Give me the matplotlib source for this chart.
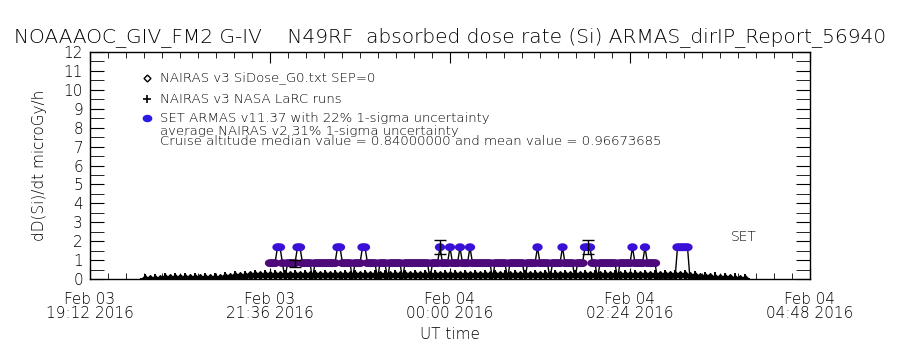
import numpy as np
import pandas as pd
import matplotlib
matplotlib.use('Agg')
import matplotlib.pyplot as plt
import matplotlib.dates as mdates
from matplotlib.ticker import MultipleLocator, FixedLocator

plt.rcParams['font.family'] = ['DejaVu Sans']
plt.rcParams['font.weight'] = 'light'
plt.rcParams['axes.labelweight'] = 'light'

# NAIRAS v3 SiDose_G0 model, 4-min samples starting 19:56 UT
g0_start = '2016-02-03 19:56'
g0_dose = [
    0.01, 0.02, 0.02, 0.02, 0.03, 0.03, 0.03, 0.03, 0.03, 0.04,
    0.04, 0.04, 0.04, 0.05, 0.05, 0.07, 0.09, 0.12, 0.14, 0.16,
    0.18, 0.19, 0.20, 0.21, 0.21, 0.22, 0.21, 0.22, 0.22, 0.21,
    0.22, 0.22, 0.23, 0.22, 0.22, 0.21, 0.22, 0.22, 0.23, 0.22,
    0.22, 0.22, 0.21, 0.22, 0.22, 0.22, 0.23, 0.22, 0.22, 0.22,
    0.21, 0.22, 0.22, 0.22, 0.22, 0.23, 0.22, 0.22, 0.21, 0.22,
    0.22, 0.22, 0.22, 0.23, 0.22, 0.22, 0.22, 0.21, 0.22, 0.22,
    0.22, 0.22, 0.23, 0.22, 0.22, 0.22, 0.22, 0.21, 0.22, 0.22,
    0.22, 0.23, 0.22, 0.22, 0.22, 0.22, 0.21, 0.22, 0.22, 0.22,
    0.22, 0.22, 0.21, 0.22, 0.22, 0.22, 0.22, 0.21, 0.21, 0.22,
    0.21, 0.21, 0.22, 0.21, 0.21, 0.21, 0.20, 0.20, 0.19, 0.17,
    0.15, 0.12, 0.10, 0.08, 0.06, 0.05, 0.04, 0.03, 0.02, 0.02,
    0.01,
]

# NAIRAS v3 NASA LaRC runs, 8-min samples starting 19:56 UT
larc_start = '2016-02-03 19:56'
larc_dose = [
    0.01, 0.02, 0.03, 0.03, 0.03, 0.04, 0.04, 0.05, 0.09, 0.14,
    0.18, 0.21, 0.21, 0.22, 0.22, 0.22, 0.22, 0.23, 0.22, 0.22,
    0.22, 0.22, 0.23, 0.22, 0.22, 0.22, 0.22, 0.23, 0.22, 0.22,
    0.22, 0.22, 0.23, 0.22, 0.22, 0.22, 0.23, 0.22, 0.22, 0.22,
    0.22, 0.23, 0.22, 0.22, 0.22, 0.22, 0.22, 0.22, 0.22, 0.22,
    0.22, 0.22, 0.21, 0.21, 0.20, 0.17, 0.12, 0.08, 0.05, 0.03,
    0.01,
]

# SET ARMAS dose rate, 2-min samples from 21:36 UT, in counts of 0.84 microGy/h
armas_start = '2016-02-03 21:36'
armas_quantum = 0.84
armas_levels = ("1112210111" "1221111011" "1111111221" "1110111221"
                "1110111011" "1110111111" "1111011121" "1121112111"
                "2111111110" "1111101111" "1101111211" "1101111211"
                "1101112221" "1011111110" "1111121111" "2111100000"
                "000222220")
armas_err_idx = [10, 68, 127]
armas_sigma = 0.22

tick_times = ['2016-02-03 19:12', '2016-02-03 21:36', '2016-02-04 00:00',
              '2016-02-04 02:24', '2016-02-04 04:48']

g0_t = pd.date_range(g0_start, periods=len(g0_dose), freq='4min')
larc_t = pd.date_range(larc_start, periods=len(larc_dose), freq='8min')
armas_lv = np.array([int(c) for c in armas_levels])
armas_dose = armas_lv * armas_quantum
armas_t = pd.date_range(armas_start, periods=len(armas_lv), freq='2min')

fig = plt.figure(figsize=(9, 3.5), dpi=100)
ax = fig.add_axes([90 / 900, 71 / 350, 720 / 900, 227 / 350])

ax.plot(g0_t, g0_dose, color='black', lw=2.2, marker='D', ms=4,
        mfc='black', mec='black', mew=0.8, zorder=2)
ax.plot(larc_t, larc_dose, color='black', marker='+', ms=6.5,
        mew=1.4, zorder=2, ls='none')

# wide ellipse marker like the IDL user symbol
th = np.linspace(0, 2 * np.pi, 33)
ell = np.column_stack([1.3 * np.cos(th), np.sin(th)])

ax.plot(armas_t, armas_dose, color='black', lw=1.0, zorder=3)
cols = np.where(armas_lv == 2, '#3a10d6', '#4e0a78')
keep = armas_lv > 0
ax.scatter(armas_t[keep], armas_dose[keep], s=55, c=cols[keep], marker=ell,
           edgecolors='none', zorder=4)
err_t = armas_t[armas_err_idx]
err_v = armas_dose[armas_err_idx]
ax.errorbar(err_t, err_v, yerr=err_v * armas_sigma, fmt='none',
            ecolor='black', elinewidth=1.0, capsize=4, capthick=1.0, zorder=5)

t0 = mdates.date2num(pd.Timestamp(tick_times[0]))
t1 = mdates.date2num(pd.Timestamp(tick_times[-1]))
ax.set_xlim(t0, t1)
ax.set_ylim(0, 12)

ax.xaxis.set_major_locator(FixedLocator(mdates.date2num(pd.to_datetime(tick_times))))
ax.xaxis.set_minor_locator(FixedLocator(np.linspace(t0, t1, 41)))
ax.xaxis.set_major_formatter(mdates.DateFormatter('%b %d\n%H:%M %Y'))
ax.yaxis.set_major_locator(MultipleLocator(1))
ax.yaxis.set_minor_locator(MultipleLocator(0.5))

ax.tick_params(axis='both', which='both', direction='in', top=True, right=True,
               colors='black')
ax.tick_params(axis='x', which='major', length=8, labelsize=11, pad=9)
ax.tick_params(axis='x', which='minor', length=4)
ax.tick_params(axis='y', which='both', length=10, labelsize=11, pad=5)
for lab in ax.get_xticklabels():
    lab.set_linespacing(1.0)
for s in ax.spines.values():
    s.set_linewidth(1.0)

ax.set_ylabel('dD(Si)/dt microGy/h', fontsize=11, labelpad=12)
ax.set_xlabel('UT time', fontsize=11, labelpad=4)

fig.text(0.5, 1 - 37 / 350,
         'NOAAAOC_GIV_FM2 G-IV    N49RF  absorbed dose rate (Si) ARMAS_dirIP_Report_56940',
         ha='center', va='center', fontsize=14.5)

# legend drawn by hand, like the IDL original
lx, tx = 0.079, 0.097
ax.plot([lx], [0.885], transform=ax.transAxes, marker='D', ms=3.5,
        mfc='white', mec='black', mew=1.0, clip_on=False)
ax.plot([lx], [0.793], transform=ax.transAxes, marker='+', ms=6,
        color='black', mew=1.2, clip_on=False)
ax.plot([lx], [0.709], transform=ax.transAxes, marker=ell, ms=7,
        color='#2a1ae6', mec='none', clip_on=False)
legend_lines = [
    (0.885, 'NAIRAS v3 SiDose_G0.txt SEP=0'),
    (0.793, 'NAIRAS v3 NASA LaRC runs'),
    (0.709, 'SET ARMAS v11.37 with 22% 1-sigma uncertainty'),
    (0.652, 'average NAIRAS v2 31% 1-sigma uncertainty'),
    (0.608, 'Cruise altitude median value = 0.84000000 and mean value = 0.96673685'),
]
for y, s in legend_lines:
    ax.text(tx, y, s, transform=ax.transAxes, fontsize=9.5, va='center')

ax.text(0.89, 0.185, 'SET', transform=ax.transAxes, fontsize=10, va='center')

fig.savefig('out.png', dpi=100, facecolor='white')
